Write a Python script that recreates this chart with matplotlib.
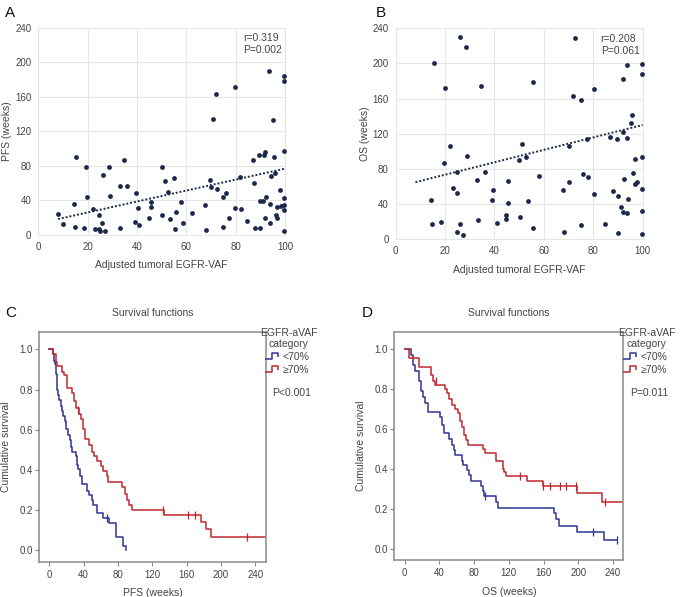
import matplotlib
matplotlib.use('Agg')
import matplotlib.pyplot as plt
from matplotlib.lines import Line2D
from matplotlib.path import Path
import numpy as np

plt.rcParams['font.family'] = ['Liberation Sans', 'DejaVu Sans']

# Panel A: adjusted EGFR-VAF vs PFS (weeks)
vaf_a = [8.1, 9.9, 14.5, 15.3, 14.9, 18.4, 19.5, 19.9, 22.0, 23.0, 24.7, 24.7, 24.9, 25.8, 26.1,
         27.2, 28.8, 29.1, 33.1, 33.2, 34.7, 36.1, 39.1, 39.6, 40.4, 40.9, 44.7, 45.5, 45.5, 50.1,
         50.3, 51.2, 52.7, 53.5, 54.9, 55.3, 55.8, 58.0, 58.5, 62.2, 67.4, 67.9, 69.7, 70.1, 70.9,
         71.9, 72.3, 74.7, 74.9, 75.9, 77.3, 79.9, 79.9, 81.8, 82.2, 84.6, 86.9, 87.3, 87.8, 89.3,
         89.9, 89.9, 91.2, 91.6, 91.9, 91.9, 92.3, 93.6, 93.9, 93.9, 94.2, 95.0, 95.5, 96.1, 96.4,
         96.6, 96.8, 97.8, 98.4, 99.8, 99.8, 99.8, 99.8, 99.8, 99.8, 99.8]
pfs_a = [24.7, 12.7, 36.3, 90.3, 8.9, 8.1, 78.3, 44.0, 30.5, 6.9, 23.5, 7.3, 5.0, 14.3, 69.8,
         4.2, 79.1, 45.1, 56.7, 8.1, 86.8, 56.3, 15.4, 48.2, 31.2, 12.0, 19.7, 38.6, 32.0, 78.3,
         22.8, 62.9, 50.2, 18.1, 66.4, 6.9, 26.2, 38.2, 13.9, 25.1, 34.7, 5.8, 63.7, 55.9, 133.9,
         163.6, 53.2, 44.0, 9.6, 49.0, 19.7, 170.9, 30.9, 67.5, 30.1, 16.2, 86.4, 60.6, 7.7, 92.2,
         39.4, 7.7, 39.4, 92.6, 95.7, 19.3, 44.0, 190.1, 36.3, 13.9, 68.3, 132.7, 90.3, 72.1, 23.1,
         19.7, 32.8, 52.5, 34.0, 184.4, 178.2, 97.6, 42.8, 34.7, 28.9, 4.2]

# Panel B: adjusted EGFR-VAF vs OS (weeks)
vaf_b = [14.4, 14.9, 15.4, 18.4, 19.4, 19.8, 22.0, 23.1, 24.7, 24.7, 24.7, 25.9, 26.2, 27.3, 28.6,
         28.7, 33.1, 33.2, 34.7, 36.0, 39.1, 39.5, 41.0, 44.7, 44.7, 45.5, 45.6, 49.8, 50.3, 51.1,
         52.8, 53.6, 55.5, 55.7, 58.2, 67.6, 68.0, 70.0, 70.2, 71.9, 72.6, 75.0, 75.0, 75.9, 77.5,
         77.9, 80.1, 80.1, 84.7, 86.9, 87.9, 89.5, 90.0, 90.0, 91.1, 91.9, 92.1, 92.1, 92.4, 93.8,
         93.8, 93.8, 94.1, 95.3, 95.5, 96.1, 96.8, 97.0, 97.9, 99.8, 99.8, 99.8, 99.8, 99.8, 99.8]
os_b = [44.7, 17.1, 200.2, 19.7, 86.4, 172.5, 106.5, 58.8, 76.2, 52.7, 8.0, 17.4, 230.1, 5.3, 218.8,
        94.4, 67.5, 22.4, 174.8, 76.6, 44.7, 56.5, 19.0, 27.3, 23.5, 66.4, 41.3, 89.9, 25.4, 108.8,
        93.3, 43.6, 12.5, 179.0, 71.7, 55.7, 8.3, 106.2, 65.6, 163.4, 228.6, 158.5, 16.7, 73.9, 114.1,
        70.9, 170.6, 51.9, 17.4, 116.8, 55.4, 113.7, 49.3, 6.8, 36.8, 122.5, 182.5, 31.5, 68.6, 198.5,
        115.2, 29.6, 46.2, 131.9, 141.4, 75.1, 62.6, 91.4, 65.2, 199.1, 188.1, 93.6, 57.6, 31.8, 6.1]

stats_a = "r=0.319\nP=0.002"
stats_b = "r=0.208\nP=0.061"
# trend lines: (slope, intercept)
fit_a = (0.634, 13.4)
fit_b = (0.707, 59.3)
fit_range = (8, 100)

# Panel C: PFS Kaplan-Meier steps
c_low_t = [0, 4.7, 5.4, 6.6, 7.8, 8.5, 9.3, 10.5, 11.6, 13.2, 14.3, 16.3, 18.2, 19.4, 22.1, 24.0,
           25.2, 26.0, 30.6, 31.8, 33.7, 35.7, 37.6, 43.4, 46.5, 49.2, 51.2, 55.8, 62.0, 69.8, 77.5,
           85.3, 89.2]
c_low_s = [1.0, 0.976, 0.944, 0.927, 0.879, 0.831, 0.798, 0.774, 0.75, 0.718, 0.694, 0.669, 0.645,
           0.605, 0.573, 0.548, 0.516, 0.492, 0.468, 0.427, 0.403, 0.371, 0.331, 0.298, 0.274, 0.25,
           0.226, 0.185, 0.161, 0.137, 0.0645, 0.024, 0.0]
c_low_cens_t = [66.7]
c_low_cens_s = [0.161]
c_high_t = [0, 4.7, 7.8, 9.3, 14.3, 17.1, 20.2, 26.0, 28.7, 31.0, 34.9, 36.4, 38.8, 41.5, 46.5, 49.2,
            52.0, 55.1, 59.7, 62.8, 66.7, 68.6, 84.1, 88.0, 90.7, 93.1, 95.8, 133.5, 176.4, 183.0,
            188.8, 252.0]
c_high_s = [1.0, 0.976, 0.935, 0.915, 0.887, 0.871, 0.806, 0.782, 0.742, 0.71, 0.677, 0.653, 0.605,
            0.556, 0.524, 0.492, 0.468, 0.444, 0.419, 0.395, 0.371, 0.339, 0.315, 0.282, 0.25, 0.226,
            0.202, 0.174, 0.142, 0.108, 0.069, 0.069]
c_high_cens_t = [33.7, 132.6, 161.7, 169.8, 230.3]
c_high_cens_s = [0.70, 0.202, 0.174, 0.174, 0.069]

# Panel D: OS Kaplan-Meier steps
d_low_t = [0, 7.0, 9.3, 12.0, 17.0, 18.3, 21.0, 23.7, 26.8, 41.0, 43.2, 44.7, 51.5, 54.0, 56.4, 58.0,
           65.5, 67.7, 71.6, 74.3, 76.2, 87.5, 89.8, 91.8, 105.4, 107.4, 171.9, 174.1, 177.8, 198.7,
           229.5, 244.7]
d_low_s = [1.0, 0.97, 0.92, 0.89, 0.84, 0.79, 0.76, 0.73, 0.685, 0.66, 0.62, 0.58, 0.55, 0.52, 0.495,
           0.47, 0.44, 0.42, 0.395, 0.37, 0.34, 0.315, 0.29, 0.265, 0.235, 0.205, 0.18, 0.148, 0.115,
           0.086, 0.042, 0.042]
d_low_cens_t = [92.2, 217.4, 244.7]
d_low_cens_s = [0.265, 0.086, 0.042]
d_high_t = [0, 5.4, 17.0, 30.0, 32.7, 34.6, 46.3, 48.2, 51.3, 54.1, 57.9, 61.0, 63.8, 66.5, 68.8, 70.8,
            72.7, 89.9, 93.0, 104.8, 113.2, 114.5, 116.3, 121.0, 140.8, 159.0, 198.0, 226.9, 252.0]
d_high_s = [1.0, 0.955, 0.91, 0.87, 0.84, 0.82, 0.80, 0.78, 0.75, 0.72, 0.70, 0.68, 0.64, 0.61, 0.57,
            0.545, 0.52, 0.50, 0.48, 0.44, 0.40, 0.383, 0.367, 0.367, 0.339, 0.315, 0.278, 0.237, 0.237]
d_high_cens_t = [36.6, 132.6, 159.1, 167.7, 178.5, 185.5, 197.2, 230.5]
d_high_cens_s = [0.84, 0.367, 0.315, 0.315, 0.315, 0.315, 0.315, 0.237]

groups = ["<70%", "\u226570%"]
p_c = "P<0.001"
p_d = "P=0.011"

navy = '#1b2a4a'
blue = '#2e3592'
red = '#c0272d'
grid_c = '#e6e6e6'
txt_c = '#444444'

fig = plt.figure(figsize=(6.8, 5.97), dpi=100)


def scatter_panel(rect, x, y, ylabel, stats, fit):
    ax = fig.add_axes(rect)
    ax.scatter(x, y, s=12, color=navy, linewidths=0, zorder=3, clip_on=False)
    k, b = fit
    xs = np.array(fit_range)
    ax.plot(xs, k * xs + b, color=navy, lw=1.4, ls=(0, (1, 1)), zorder=2)
    ax.set_xlim(0, 100)
    ax.set_ylim(0, 240)
    ax.set_xticks(range(0, 101, 20))
    ax.set_yticks(range(0, 241, 40))
    ax.grid(True, color=grid_c, lw=0.8)
    ax.set_axisbelow(True)
    for s in ax.spines.values():
        s.set_color(grid_c)
        s.set_linewidth(0.8)
    ax.tick_params(length=0, labelsize=7, colors=txt_c, pad=5)
    ax.set_xlabel("Adjusted tumoral EGFR-VAF", fontsize=7.5, color=txt_c, labelpad=6)
    ax.set_ylabel(ylabel, fontsize=7.5, color=txt_c, labelpad=2)
    ax.text(0.83, 0.975, stats, transform=ax.transAxes, fontsize=7.5, color=txt_c,
            va='top', ha='left', linespacing=1.3)
    return ax


step_path = Path([(-1.0, -0.35), (-0.15, -0.35), (-0.15, 0.35), (0.7, 0.35), (0.7, -0.1)],
                 [Path.MOVETO, Path.LINETO, Path.LINETO, Path.LINETO, Path.LINETO])


def km_panel(rect, curves, xlabel, ptext):
    ax = fig.add_axes(rect)
    for t, s, ct, cs, col in curves:
        ax.step(t, s, where='post', color=col, lw=1.1)
        ax.plot(ct, cs, ls='none', marker='|', ms=6, mew=0.9, color=col)
    ax.set_xlim(-12, 252)
    ax.set_ylim(-0.056, 1.085)
    ax.set_xticks(range(0, 241, 40))
    ax.set_yticks(np.arange(0, 1.01, 0.2))
    ax.yaxis.set_major_formatter(matplotlib.ticker.FormatStrFormatter('%.1f'))
    for s in ax.spines.values():
        s.set_color('#8a8a8a')
        s.set_linewidth(1.1)
    ax.tick_params(length=3, width=0.8, color='#8a8a8a', labelsize=7, labelcolor=txt_c)
    ax.tick_params(axis='y', pad=1.5)
    ax.tick_params(axis='x', pad=3)
    ax.set_xlabel(xlabel, fontsize=7.5, color=txt_c, labelpad=6)
    ax.set_ylabel("Cumulative survival", fontsize=7.5, color=txt_c, labelpad=6)
    ax.set_title("Survival functions", fontsize=7.5, color=txt_c, pad=12)
    handles = [Line2D([], [], ls='none', marker=step_path, ms=11, mew=1.1, mfc='none', color=c)
               for c in (blue, red)]
    leg = ax.legend(handles, groups, title="EGFR-aVAF\ncategory", loc='upper left',
                    bbox_to_anchor=(0.975, 1.02), frameon=False, fontsize=7.5,
                    title_fontsize=7.5, handlelength=1.0, handletextpad=0.4, borderpad=0,
                    labelspacing=0.25, borderaxespad=0)
    for tx in leg.get_texts():
        tx.set_color(txt_c)
    leg.get_title().set_color(txt_c)
    leg.get_title().set_multialignment('center')
    ax.text(1.03, 0.735, ptext, transform=ax.transAxes, fontsize=7.5, color=txt_c,
            va='center', ha='left')
    return ax


scatter_panel([0.0563, 0.6064, 0.3628, 0.3472], vaf_a, pfs_a, "PFS (weeks)", stats_a, fit_a)
scatter_panel([0.5819, 0.5992, 0.3632, 0.3534], vaf_b, os_b, "OS (weeks)", stats_b, fit_b)

km_panel([0.0574, 0.0591, 0.3334, 0.3843],
         [(c_low_t, c_low_s, c_low_cens_t, c_low_cens_s, blue),
          (c_high_t, c_high_s, c_high_cens_t, c_high_cens_s, red)],
         "PFS (weeks)", p_c)
km_panel([0.5799, 0.0620, 0.3368, 0.3814],
         [(d_low_t, d_low_s, d_low_cens_t, d_low_cens_s, blue),
          (d_high_t, d_high_s, d_high_cens_t, d_high_cens_s, red)],
         "OS (weeks)", p_d)

for lab, x, y in [("A", 0.008, 0.99), ("B", 0.553, 0.99), ("C", 0.008, 0.487), ("D", 0.532, 0.487)]:
    fig.text(x, y, lab, fontsize=11, va='top', ha='left', color='#111111')

fig.savefig('out.png', dpi=100)
